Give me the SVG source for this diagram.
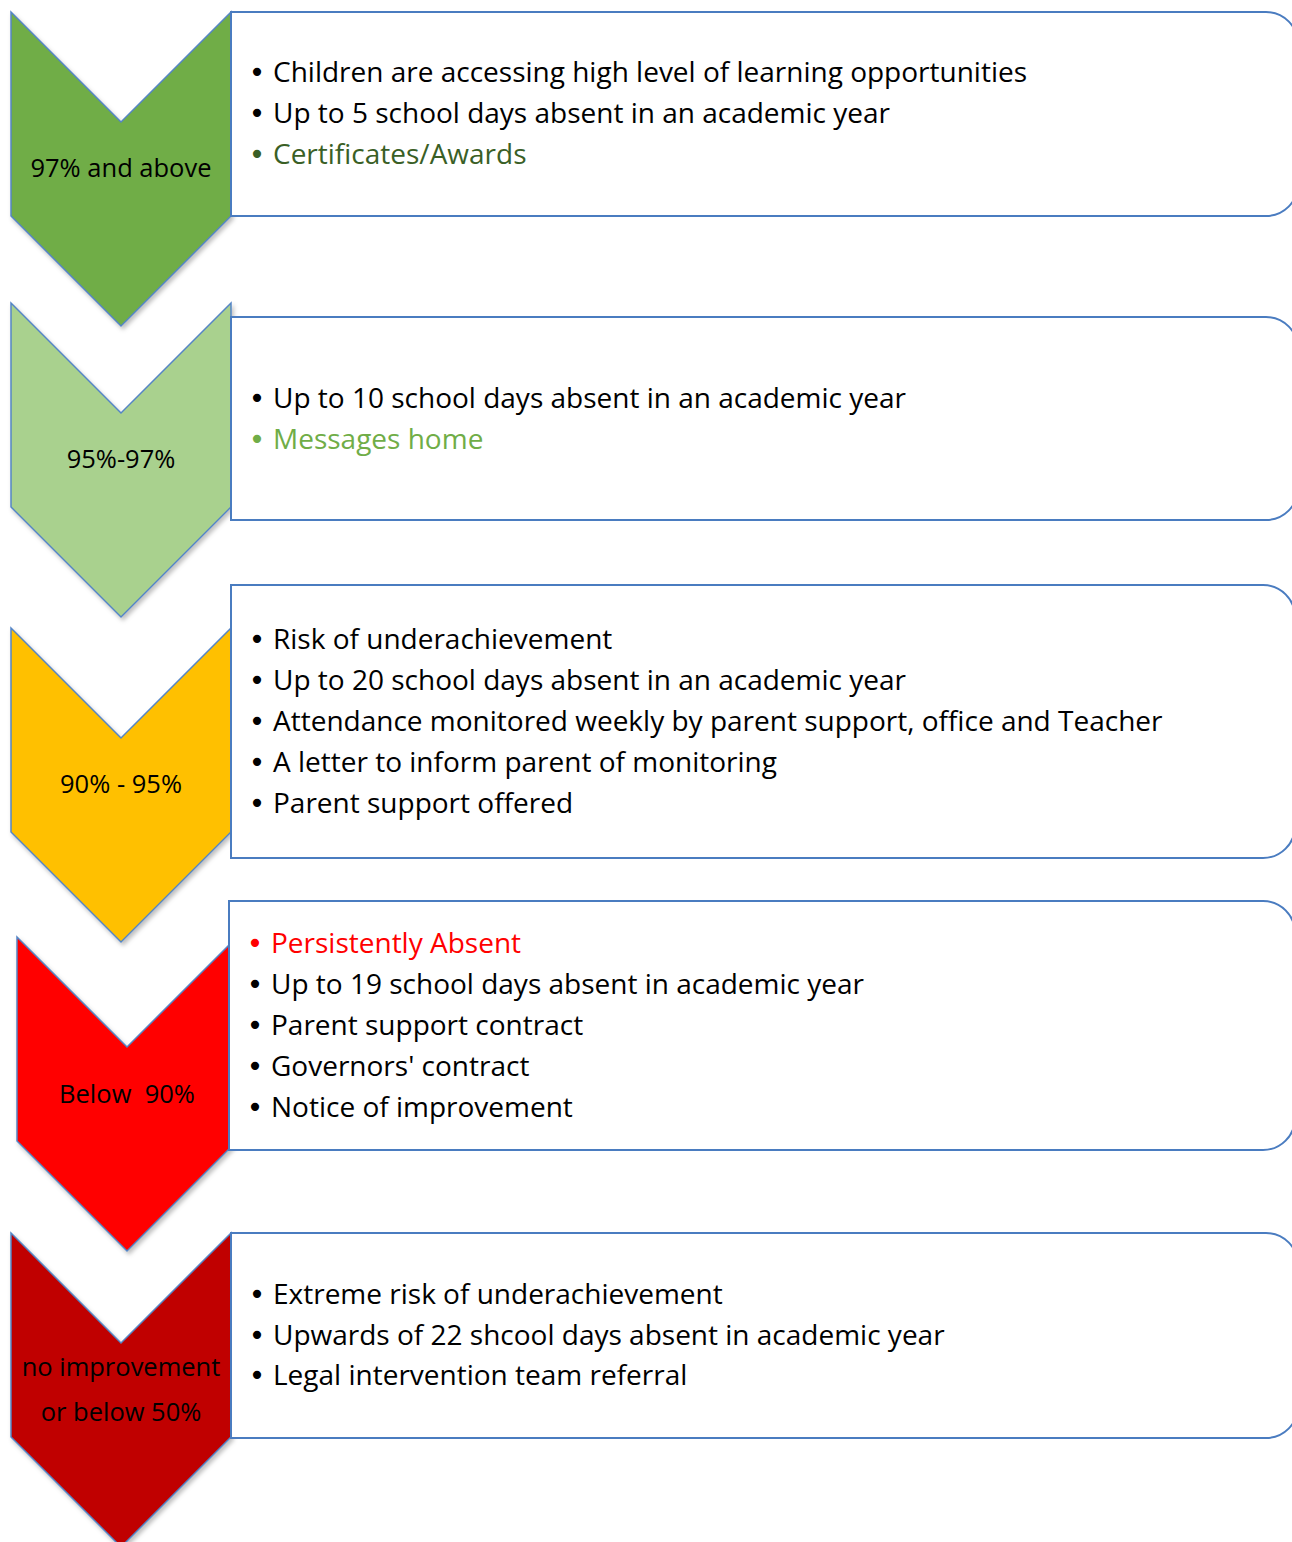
<svg xmlns="http://www.w3.org/2000/svg" width="1292" height="1542" viewBox="0 0 1292 1542">
<defs>
<filter id="sh" x="-10%" y="-10%" width="130%" height="130%">
<feDropShadow dx="2" dy="3" stdDeviation="2" flood-color="#000" flood-opacity="0.25"/>
</filter>
</defs>
<style>
.chev{stroke:#5585C5;stroke-width:1.5;stroke-linejoin:miter}
.box{fill:#fff;stroke:#4A7CC0;stroke-width:2}
.lbl{font-family:"Open Sans","Noto Sans",sans-serif;font-size:25.5px;fill:#000;text-anchor:middle}
.t{font-family:"Open Sans","Noto Sans",sans-serif;font-size:28px;fill:#000}
.b{font-family:"DejaVu Sans",sans-serif;font-size:28px;fill:#000;text-anchor:middle}
.g1{fill:#3A5F26}
.g2{fill:#70AD47}
.r{fill:#FF0000}
</style>
<rect width="1292" height="1542" fill="#fff"/>

<g id="node1">
<path class="chev" filter="url(#sh)" fill="#70AD47" d="M11,12 L121,122 L231,12 L231,216 L121,326 L11,216 Z"/>
<text class="lbl" x="121" y="177">97% and above</text>
<path class="box" d="M231,12 H1266 A32,32 0 0 1 1298,44 V184 A32,32 0 0 1 1266,216 H231 Z"/>
<text class="b" x="257" y="82">•</text><text class="t" x="273" y="82">Children are accessing high level of learning opportunities</text>
<text class="b" x="257" y="123">•</text><text class="t" x="273" y="123">Up to 5 school days absent in an academic year</text>
<text class="b g1" x="257" y="164">•</text><text class="t g1" x="273" y="164">Certificates/Awards</text>
</g>

<g id="node2">
<path class="chev" filter="url(#sh)" fill="#A9D18E" d="M11,303 L121,413 L231,303 L231,507 L121,617 L11,507 Z"/>
<text class="lbl" x="121" y="468">95%-97%</text>
<path class="box" d="M231,317 H1266 A32,32 0 0 1 1298,349 V488 A32,32 0 0 1 1266,520 H231 Z"/>
<text class="b" x="257" y="408">•</text><text class="t" x="273" y="408">Up to 10 school days absent in an academic year</text>
<text class="b g2" x="257" y="449">•</text><text class="t g2" x="273" y="449">Messages home</text>
</g>

<g id="node3">
<path class="chev" filter="url(#sh)" fill="#FFC000" d="M11,628 L121,738 L231,628 L231,832 L121,942 L11,832 Z"/>
<text class="lbl" x="121" y="793">90% - 95%</text>
<path class="box" d="M231,585 H1263 A32,32 0 0 1 1295,617 V826 A32,32 0 0 1 1263,858 H231 Z"/>
<text class="b" x="257" y="649">•</text><text class="t" x="273" y="649">Risk of underachievement</text>
<text class="b" x="257" y="690">•</text><text class="t" x="273" y="690">Up to 20 school days absent in an academic year</text>
<text class="b" x="257" y="731">•</text><text class="t" x="273" y="731">Attendance monitored weekly by parent support, office and Teacher</text>
<text class="b" x="257" y="772">•</text><text class="t" x="273" y="772">A letter to inform parent of monitoring</text>
<text class="b" x="257" y="813">•</text><text class="t" x="273" y="813">Parent support offered</text>
</g>

<g id="node4">
<path class="chev" filter="url(#sh)" fill="#FF0000" d="M17,937 L127,1047 L237,937 L237,1141 L127,1251 L17,1141 Z"/>
<text class="lbl" x="127" y="1103" xml:space="preserve">Below  90%</text>
<path class="box" d="M229,901 H1263 A32,32 0 0 1 1295,933 V1118 A32,32 0 0 1 1263,1150 H229 Z"/>
<text class="b r" x="255" y="953">•</text><text class="t r" x="271" y="953">Persistently Absent</text>
<text class="b" x="255" y="994">•</text><text class="t" x="271" y="994">Up to 19 school days absent in academic year</text>
<text class="b" x="255" y="1035">•</text><text class="t" x="271" y="1035">Parent support contract</text>
<text class="b" x="255" y="1076">•</text><text class="t" x="271" y="1076">Governors' contract</text>
<text class="b" x="255" y="1117">•</text><text class="t" x="271" y="1117">Notice of improvement</text>
</g>

<g id="node5">
<path class="chev" filter="url(#sh)" fill="#C00000" d="M11,1233 L121,1343 L231,1233 L231,1437 L121,1547 L11,1437 Z"/>
<text class="lbl" x="121" y="1376">no improvement</text>
<text class="lbl" x="121" y="1421">or below 50%</text>
<path class="box" d="M231,1233 H1266 A32,32 0 0 1 1298,1265 V1406 A32,32 0 0 1 1266,1438 H231 Z"/>
<text class="b" x="257" y="1304">•</text><text class="t" x="273" y="1304">Extreme risk of underachievement</text>
<text class="b" x="257" y="1345">•</text><text class="t" x="273" y="1345">Upwards of 22 shcool days absent in academic year</text>
<text class="b" x="257" y="1385">•</text><text class="t" x="273" y="1385">Legal intervention team referral</text>
</g>

<g id="connectors"></g>
</svg>
